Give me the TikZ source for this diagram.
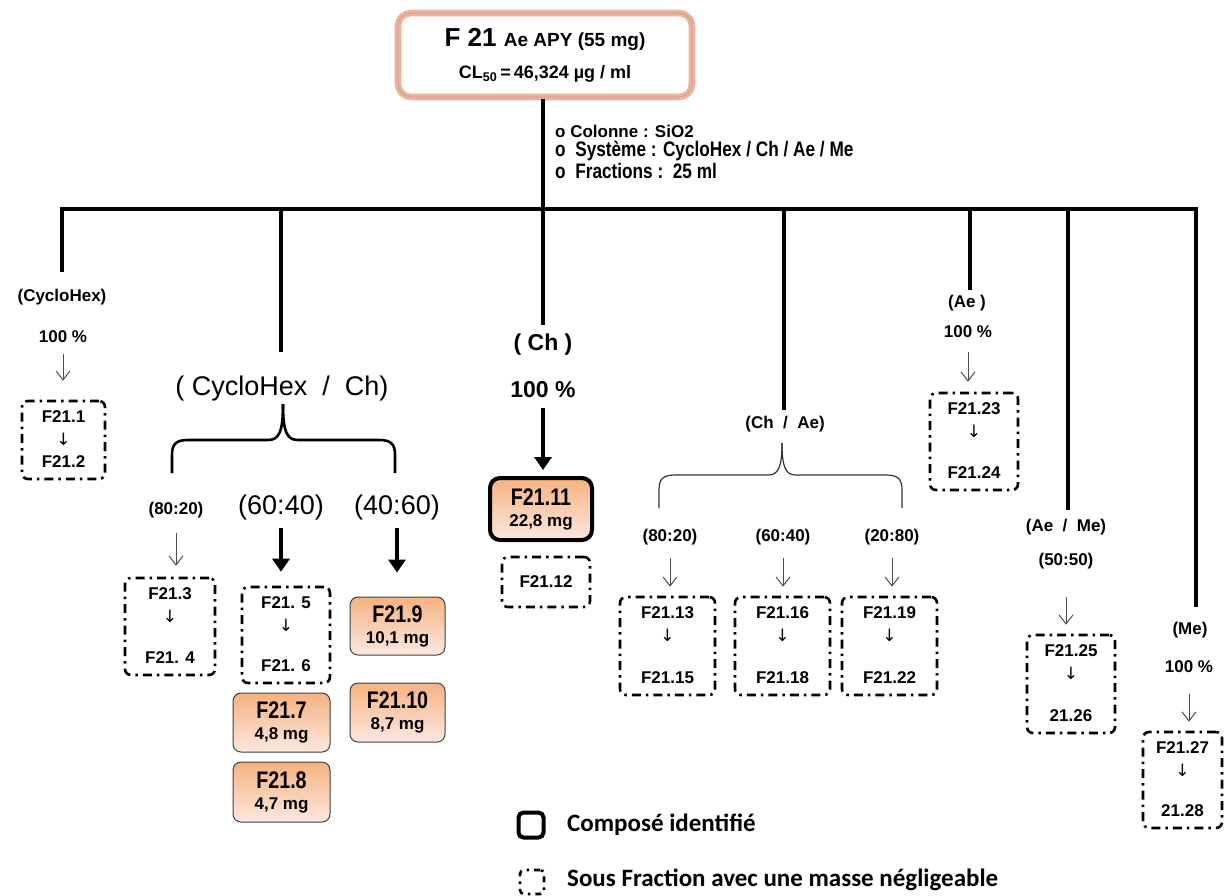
\documentclass[tikz,border=0pt]{standalone}
\usepackage{fontspec}
\setmainfont{Liberation Sans}
\newfontfamily\narrowfont[FakeStretch=0.82]{Liberation Sans}
\newfontfamily\legendfont{Carlito}
\newfontfamily\symfont{DejaVu Sans}
\usetikzlibrary{arrows.meta}
\newcommand\fsz[1]{\fontsize{#1}{#1}\selectfont}
\definecolor{orA}{RGB}{246,178,128}
\definecolor{orB}{RGB}{243,160,100}
\definecolor{orC}{RGB}{252,232,224}
\definecolor{topborder}{RGB}{236,180,150}
\definecolor{topinner}{RGB}{215,140,175}
\tikzset{
  tree/.style={line width=4pt, black},
  thinarrow/.style={-{Straight Barb[length=9pt,width=14pt]}, line width=1pt, black!70},
  thickarrow/.style={-{Triangle[length=13pt,width=17pt]}, line width=3.5pt, black},
  bigbrace/.style={line width=2.6pt, black},
  smallbrace/.style={line width=1.2pt, black!80},
  dbox/.style={draw, line width=2.6pt, dash pattern=on 9pt off 5pt on 2.5pt off 5pt, rounded corners=6pt, inner sep=0pt},
  obox/.style={draw=black!75, line width=1pt, rounded corners=8pt, top color=orA, middle color=orB, bottom color=orC, align=center, inner sep=0pt},
  idbox/.style={obox, draw=black, line width=4pt, rounded corners=10pt},
  small/.style={font=\bfseries\fsz{17}, inner sep=1pt},
  big/.style={font=\fsz{27}, inner sep=1pt},
  bigb/.style={font=\bfseries\fsz{23}, inner sep=1pt},
  boxlbl/.style={font=\bfseries\fsz{17}, inner sep=1pt},
  darrow/.style={font=\symfont\fsz{17}, inner sep=0pt},
  bullet/.style={anchor=west, inner sep=0pt},
  legtext/.style={anchor=west, inner sep=0pt, font=\legendfont\bfseries\fsz{25}},
}
% dashed sub-fraction box: name, cx, cy, w, h, top text, bottom text
\newcommand\subfrac[7]{%
  \node[dbox, minimum width=#4pt, minimum height=#5pt] (#1) at (#2,#3) {};
  \node[boxlbl] (#1t) at ([yshift=-17pt]#1.north) {#6};
  \node[darrow] (#1a) at ([yshift=-40pt]#1.north) {↓};
  \node[boxlbl] (#1b) at ([yshift=19pt]#1.south) {#7};
}
% mass box: name, cx, cy, w, h, label, mass, style
\newcommand\massbox[8]{%
  \node[#8, font=\bfseries\fsz{24}, minimum width=#4pt, minimum height=#5pt] (#1) at (#2,#3)
    {{\narrowfont #6}\\[-3pt]{\fsz{17}#7}};
}
\begin{document}
\begin{tikzpicture}[x=1pt,y=-1pt]
\useasboundingbox (0,0) rectangle (1225,895);

% top node
\node[draw=topborder, line width=3pt, rounded corners=13pt, fill=white,
      double=topinner, double distance=0.6pt,
      minimum width=294pt, minimum height=84pt, align=center, inner sep=0pt,
      font=\bfseries\fsz{26}] (top) at (545,55)
  {F 21 {\fsz{19}Ae APY (55 mg)}\\[6pt]
   {\fsz{18}CL\textsubscript{50}\,=\,46,324 µg / ml}};

% conditions
\node[bullet, font=\bfseries\fsz{17}] (c1) at (555,131) {o Colonne : SiO2};
\node[bullet, font=\narrowfont\bfseries\fsz{21}] (c2) at (555,151) {o~~Système : CycloHex / Ch / Ae / Me};
\node[bullet, font=\narrowfont\bfseries\fsz{21}] (c3) at (555,171) {o~~Fractions :~~25 ml};

% tree
\coordinate (barL) at (60,209);
\coordinate (barR) at (1198,209);
\coordinate (d1) at (62,272);
\coordinate (d2) at (281,352);
\coordinate (d3) at (543,325);
\coordinate (d4) at (784,410);
\coordinate (d5) at (970,290);
\coordinate (d6) at (1068,510);
\coordinate (d7) at (1196,607);
\draw[tree] (barL) -- (barR);
\draw[tree] (d3 |- top.south) -- (d3);
\foreach \d in {d1,d2,d4,d5,d6,d7} \draw[tree] (\d |- barL) -- (\d);

% column 1
\node[small] (cyh) at (62,297) {(CycloHex)};
\node[small] (pct1) at (63,337) {100 \%};
\subfrac{box1}{63.5}{440}{83}{78}{F21.1}{F21.2}
\draw[thinarrow, shorten <=10pt, shorten >=19pt] (pct1.south) -- (pct1.south |- box1.north);

% column 2
\node[big] (cyhch) at (282,389) {( CycloHex~~/~~Ch)};
\coordinate (b2l) at (172,473);
\coordinate (b2r) at (395,473);
\coordinate (b2c) at (283,404);
\draw[bigbrace] (b2l) -- (172,455) .. controls (172,444) and (176,440) .. (188,440) -- (268,440) .. controls (279,440) and (283,432) .. (b2c);
\draw[bigbrace] (b2r) -- (395,455) .. controls (395,444) and (391,440) .. (379,440) -- (298,440) .. controls (287,440) and (283,432) .. (b2c);
\node[small] (r1) at (176,510) {(80:20)};
\node[big] (r2) at (281,508) {(60:40)};
\node[big] (r3) at (397,508) {(40:60)};
\subfrac{box3}{170}{626.5}{90}{97}{F21.3}{F21. 4}
\subfrac{box5}{286}{635}{88}{96}{F21. 5}{F21. 6}
\massbox{f7}{281.5}{722.5}{97}{59}{F21.7}{4,8 mg}{obox}
\massbox{f8}{281.5}{792}{97}{60}{F21.8}{4,7 mg}{obox}
\massbox{f9}{397.5}{626}{95}{58}{F21.9}{10,1 mg}{obox}
\massbox{f10}{397.5}{712.5}{95}{59}{F21.10}{8,7 mg}{obox}
\draw[thinarrow, shorten <=14pt, shorten >=11pt] (r1.south) -- (r1.south |- box3.north);
\draw[thickarrow, shorten <=6pt, shorten >=14pt] (r2.south) -- (r2.south |- box5.north);
\draw[thickarrow, shorten <=6pt, shorten >=24pt] (r3.south) -- (r3.south |- f9.north);

% column 3
\node[bigb] (ch) at (543,345) {( Ch )};
\node[bigb] (pct3) at (543,390) {100 \%};
\massbox{f11}{541}{509}{102}{62}{F21.11}{22,8 mg}{idbox}
\node[dbox, minimum width=88pt, minimum height=50pt, font=\bfseries\fsz{17}] (box12) at (546,582) {F21.12};
\draw[thickarrow, shorten <=9pt, shorten >=6pt] (pct3.south) -- (pct3.south |- f11.north);

% column 4
\node[small] (chae) at (785,424) {(Ch~~/~~Ae)};
\coordinate (b4l) at (659,508);
\coordinate (b4r) at (902,508);
\coordinate (b4c) at (782,443);
\draw[smallbrace] (b4l) -- (659,490) .. controls (659,479) and (663,475) .. (675,475) -- (768,475) .. controls (778,475) and (782,468) .. (b4c);
\draw[smallbrace] (b4r) -- (902,490) .. controls (902,479) and (898,475) .. (886,475) -- (796,475) .. controls (786,475) and (782,468) .. (b4c);
\node[small] (r4) at (670,537) {(80:20)};
\node[small] (r5) at (783,537) {(60:40)};
\node[small] (r6) at (892,537) {(20:80)};
\subfrac{box13}{667.5}{646}{95}{98}{F21.13}{F21.15}
\subfrac{box16}{782.5}{646}{95}{98}{F21.16}{F21.18}
\subfrac{box19}{889.5}{646}{95}{98}{F21.19}{F21.22}
\draw[thinarrow, shorten <=12pt, shorten >=9pt] (r4.south) -- (r4.south |- box13.north);
\draw[thinarrow, shorten <=12pt, shorten >=9pt] (r5.south) -- (r5.south |- box16.north);
\draw[thinarrow, shorten <=12pt, shorten >=9pt] (r6.south) -- (r6.south |- box19.north);

% column 5
\node[small] (ae) at (967,303) {(Ae )};
\node[small] (pct5) at (968,332) {100 \%};
\subfrac{box23}{974}{441.5}{88}{97}{F21.23}{F21.24}
\draw[thinarrow, shorten <=13pt, shorten >=10pt] (pct5.south) -- (pct5.south |- box23.north);

% column 6
\node[small] (aeme) at (1066,527) {(Ae~~/~~Me)};
\node[small] (r7) at (1066,561) {(50:50)};
\subfrac{box25}{1071}{684}{88}{98}{F21.25}{21.26}
\draw[thinarrow, shorten <=27pt, shorten >=9pt] (r7.south) -- (r7.south |- box25.north);

% column 7
\node[small] (me) at (1190,630) {(Me)};
\node[small] (pct7) at (1189,667) {100 \%};
\subfrac{box27}{1182.5}{780}{79}{96}{F21.27}{21.28}
\draw[thinarrow, shorten <=20pt, shorten >=9pt] (pct7.south) -- (pct7.south |- box27.north);

% legend
\node[draw, line width=4pt, rounded corners=5pt, minimum size=25pt, inner sep=0pt] (leg1) at (531,825) {};
\node[legtext] (leg1t) at (567,825) {Composé identifié};
\node[draw, line width=2.6pt, dash pattern=on 6pt off 5pt on 2.5pt off 5pt, rounded corners=4pt, minimum size=24pt, inner sep=0pt] (leg2) at (532,882) {};
\node[legtext] (leg2t) at (567,880) {Sous Fraction avec une masse négligeable};
\end{tikzpicture}
\end{document}
